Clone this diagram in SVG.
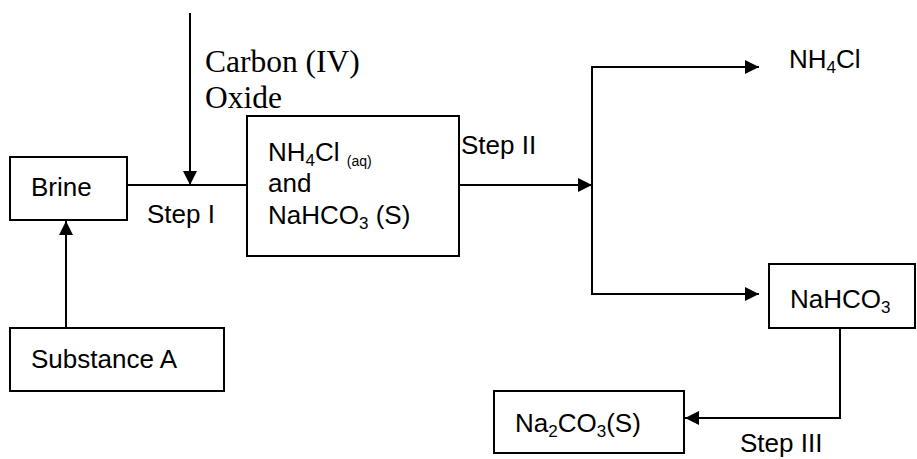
<svg xmlns="http://www.w3.org/2000/svg" width="917" height="459" viewBox="0 0 917 459">
<defs>
<style>
.box{fill:#fff;stroke:#000;stroke-width:2}
.ln{fill:none;stroke:#000;stroke-width:2}
.t{font-family:"Liberation Sans",Arial,sans-serif;font-size:26px;fill:#000}
.s{font-size:17px}
.ser{font-family:"Liberation Serif","Times New Roman",serif;font-size:31.5px;fill:#000}
</style>
<marker id="ah" viewBox="0 0 14 14" refX="14" refY="7" markerWidth="14" markerHeight="14" markerUnits="userSpaceOnUse" orient="auto">
<path d="M0,0 L14,7 L0,14 Z" fill="#000"/>
</marker>
</defs>
<g id="connectors">
<line class="ln" x1="190" y1="13" x2="190" y2="185" marker-end="url(#ah)"/>
<line class="ln" x1="127" y1="185" x2="247" y2="185"/>
<line class="ln" x1="66" y1="328" x2="66" y2="221" marker-end="url(#ah)"/>
<line class="ln" x1="459" y1="185" x2="592" y2="185" marker-end="url(#ah)"/>
<line class="ln" x1="592" y1="67" x2="592" y2="294"/>
<line class="ln" x1="591" y1="67" x2="759" y2="67" marker-end="url(#ah)"/>
<line class="ln" x1="591" y1="294" x2="759" y2="294" marker-end="url(#ah)"/>
<polyline class="ln" points="840,328 840,418 685,418" marker-end="url(#ah)"/>
</g>
<g id="co2-label">
<text class="ser" x="205" y="72">Carbon (IV)</text>
<text class="ser" x="205" y="108">Oxide</text>
</g>
<g id="brine">
<rect class="box" x="10" y="157" width="117" height="63"/>
<text class="t" x="31" y="196">Brine</text>
</g>
<g id="substance-a">
<rect class="box" x="10" y="328" width="214" height="63"/>
<text class="t" x="31" y="368">Substance A</text>
</g>
<g id="step1"><text class="t" x="147" y="223">Step I</text></g>
<g id="mixture">
<rect class="box" x="247" y="116" width="212" height="140"/>
<text class="t" x="268" y="161">NH<tspan class="s" dy="5">4</tspan><tspan dy="-5">Cl </tspan><tspan style="font-size:14px" dy="5">(aq)</tspan></text>
<text class="t" x="268" y="192">and</text>
<text class="t" x="268" y="224">NaHCO<tspan class="s" dy="5">3</tspan><tspan dy="-5"> (S)</tspan></text>
</g>
<g id="step2"><text class="t" x="461" y="154">Step II</text></g>
<g id="nh4cl">
<text class="t" x="789" y="68">NH<tspan class="s" dy="5">4</tspan><tspan dy="-5">Cl</tspan></text>
</g>
<g id="nahco3">
<rect class="box" x="769" y="264" width="146" height="64"/>
<text class="t" x="790" y="308">NaHCO<tspan class="s" dy="5">3</tspan></text>
</g>
<g id="na2co3">
<rect class="box" x="494" y="391" width="190" height="62"/>
<text class="t" x="515" y="432">Na<tspan class="s" dy="5">2</tspan><tspan dy="-5">CO</tspan><tspan class="s" dy="5">3</tspan><tspan dy="-5">(S)</tspan></text>
</g>
<g id="step3"><text class="t" x="740" y="452">Step III</text></g>
</svg>
